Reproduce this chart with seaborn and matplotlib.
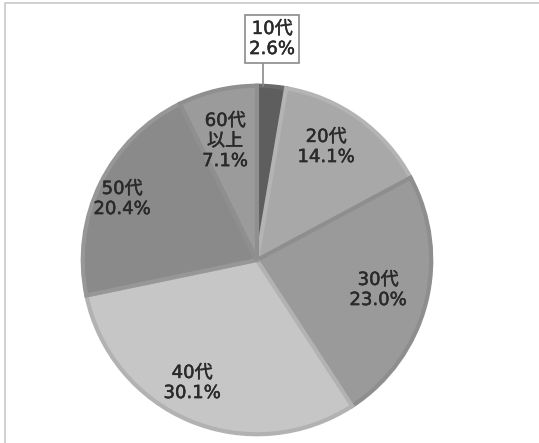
import matplotlib
matplotlib.use("Agg")
import matplotlib.pyplot as plt
import matplotlib.patheffects as pe
import seaborn as sns
from matplotlib.patches import Rectangle

sns.set_theme(style="white")
plt.rcParams['font.family'] = ['DejaVu Sans', 'Noto Sans CJK JP']

categories = ["10代", "20代", "30代", "40代", "50代", "60代\n以上"]
values = [2.6, 14.1, 23.0, 30.1, 20.4, 7.1]
pct_labels = ["2.6%", "14.1%", "23.0%", "30.1%", "20.4%", "7.1%"]
fill_colors = ["#5e5e5e", "#a8a8a8", "#9a9a9a", "#c6c6c6", "#8a8a8a", "#9b9b9b"]
edge_colors = ["#6a6a6a", "#b4b4b4", "#8e8e8e", "#b2b2b2", "#979797", "#8f8f8f"]

W, H = 539, 443
fig = plt.figure(figsize=(W / 100, H / 100), dpi=100)
fig.patch.set_facecolor("white")

# frame
fig.patches.append(Rectangle((5 / W, -0.05), 1.1, (H - 3) / H + 0.05, transform=fig.transFigure,
                             fill=False, edgecolor="#c8c8c8", linewidth=1.2))

cx, cy, R = 257, 260, 176
ax = fig.add_axes([(cx - R) / W, (H - cy - R) / H, 2 * R / W, 2 * R / H])

wedges, _ = ax.pie(values, colors=fill_colors, startangle=90, counterclock=False,
                   radius=0.99,
                   wedgeprops=dict(linewidth=3))
for w, ec in zip(wedges, edge_colors):
    w.set_edgecolor(ec)
ax.set_xlim(-1, 1)
ax.set_ylim(-1, 1)
ax.axis("off")

def d(px, py):
    return (px - cx) / R, (cy - py) / R

fs = 13
tc = "#2a2a2a"
thick = [pe.withStroke(linewidth=0.35, foreground=tc)]
label_pos = [None, d(326, 147), d(378, 290), d(192, 383), d(122, 199), d(225, 141)]
for i, (cat, pct) in enumerate(zip(categories, pct_labels)):
    if i == 0:
        continue
    x, y = label_pos[i]
    ax.text(x, y, f"{cat}\n{pct}", ha="center", va="center", fontsize=fs,
            color=tc, linespacing=1.15, path_effects=thick)

# callout for 10代
x0, y0 = d(263, 86)
x1, y1 = d(263, 63)
ax.plot([x0, x1], [y0, y1], color="#8a8a8a", linewidth=1.2, clip_on=False)
bx, by = d(272, 39)
t = ax.text(bx, by, f"{categories[0]}\n{pct_labels[0]}", ha="center", va="center",
            fontsize=fs, color=tc, linespacing=1.15, path_effects=thick,
            bbox=dict(boxstyle="square,pad=0.25", fc="white", ec="#8a8a8a", lw=1.2))

fig.savefig("out.png", dpi=100, facecolor="white")
